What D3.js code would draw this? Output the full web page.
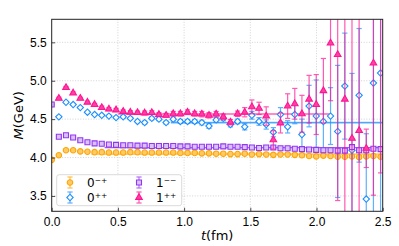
<!DOCTYPE html>
<html>
<head>
<meta charset="utf-8">
<script src="https://cdn.jsdelivr.net/npm/d3@7"></script>
<style>
	html, body { margin: 0; padding: 0; background: #fff; }
	svg { display: block; font-family: "DejaVu Sans", sans-serif; }
	.grid line { stroke: #c8c8c8; stroke-width: 0.8; stroke-dasharray: 1,1.6; }
	.axis path { display: none; }
	.axis line { stroke: #222; stroke-width: 0.8; }
	.axis text { font-size: 12px; fill: #000; }
</style>
</head>
<body>
<div id="chart"></div>
<script>
// lattice time slices: t = n * spacing
var spacing = 0.054;
var xTicks = [0.0, 0.5, 1.0, 1.5, 2.0, 2.5];
var yTicks = [3.5, 4.0, 4.5, 5.0, 5.5];

// 0-+ , starts at n = 0
var mPS = [3.97, 4.03, 4.095, 4.095, 4.08, 4.075, 4.07, 4.07, 4.065, 4.065, 4.065, 4.07, 4.07, 4.065, 4.065, 4.065,
	4.065, 4.065, 4.06, 4.06, 4.06, 4.055, 4.055, 4.05, 4.05, 4.045, 4.045, 4.05, 4.04, 4.045, 4.04, 4.035,
	4.04, 4.04, 4.035, 4.03, 4.02, 4.015, 4.025, 4.02, 4.01, 4.01, 4.015, 4.005, 4.015, 4.02, 4.01];
var ePS = [0.004, 0.004, 0.004, 0.004, 0.004, 0.004, 0.004, 0.004, 0.005, 0.005, 0.005, 0.005, 0.005, 0.005, 0.005, 0.005,
	0.005, 0.006, 0.006, 0.006, 0.006, 0.006, 0.006, 0.006, 0.007, 0.007, 0.007, 0.007, 0.007, 0.007, 0.008, 0.008,
	0.008, 0.008, 0.008, 0.009, 0.009, 0.009, 0.01, 0.01, 0.01, 0.01, 0.011, 0.011, 0.011, 0.012, 0.012];

// 0++ , starts at n = 1
var mS = [4.53, 4.72, 4.69, 4.65, 4.59, 4.56, 4.55, 4.54, 4.52, 4.53, 4.51, 4.47, 4.455, 4.51, 4.50, 4.455,
	4.50, 4.47, 4.47, 4.47, 4.455, 4.41, 4.49, 4.51, 4.43, 4.47, 4.40, 4.55, 4.47, 4.43, 4.33, 4.56,
	4.40, 4.56, 4.30, 4.67, 4.54, 4.47, 4.54, 4.34, 4.93, 4.095, 4.81, 3.46, 4.97, 5.10];
var eS = [0.01, 0.01, 0.01, 0.01, 0.01, 0.01, 0.01, 0.01, 0.015, 0.015, 0.015, 0.015, 0.02, 0.02, 0.02, 0.02,
	0.025, 0.025, 0.025, 0.025, 0.03, 0.03, 0.03, 0.03, 0.03, 0.03, 0.04, 0.05, 0.05, 0.06, 0.06, 0.09,
	0.08, 0.12, 0.2, 0.27, 0.47, 0.4, 0.37, 0.86, 0.69, 1.0, 0.87, 0.85, 2.0, 2.5];

// 1-- , starts at n = 0
var mV = [4.69, 4.27, 4.29, 4.26, 4.225, 4.20, 4.185, 4.18, 4.17, 4.165, 4.16, 4.16, 4.155, 4.155, 4.15, 4.15,
	4.15, 4.15, 4.145, 4.145, 4.14, 4.14, 4.14, 4.14, 4.145, 4.14, 4.14, 4.135, 4.13, 4.125, 4.13, 4.13,
	4.12, 4.12, 4.115, 4.11, 4.105, 4.10, 4.095, 4.095, 4.09, 4.09, 4.135, 4.095, 4.095, 4.115, 4.11];
var eV = [0.006, 0.005, 0.005, 0.005, 0.005, 0.005, 0.005, 0.005, 0.006, 0.006, 0.006, 0.006, 0.006, 0.006, 0.006, 0.006,
	0.007, 0.007, 0.007, 0.007, 0.007, 0.008, 0.008, 0.008, 0.008, 0.008, 0.009, 0.009, 0.009, 0.01, 0.01, 0.01,
	0.01, 0.011, 0.011, 0.011, 0.012, 0.012, 0.012, 0.013, 0.013, 0.014, 0.014, 0.015, 0.015, 0.016, 0.016];

// 1++ , starts at n = 1
var mA = [4.77, 4.91, 4.84, 4.77, 4.72, 4.69, 4.65, 4.63, 4.62, 4.60, 4.59, 4.585, 4.58, 4.585, 4.56, 4.55,
	4.57, 4.57, 4.59, 4.57, 4.565, 4.55, 4.565, 4.53, 4.46, 4.57, 4.59, 4.66, 4.64, 4.54, 4.23, 4.45,
	4.67, 4.70, 4.57, 4.76, 4.69, 4.87, 5.49, 5.34, 4.76, 4.25, 4.35, 4.12, 5.23, 6.0];
var eA = [0.015, 0.015, 0.015, 0.015, 0.015, 0.015, 0.02, 0.02, 0.02, 0.02, 0.02, 0.02, 0.025, 0.025, 0.025, 0.025,
	0.03, 0.03, 0.03, 0.03, 0.035, 0.035, 0.035, 0.035, 0.035, 0.035, 0.06, 0.09, 0.08, 0.12, 0.12, 0.13,
	0.16, 0.2, 0.24, 0.31, 0.39, 0.42, 0.75, 1.9, 1.9, 2.0, 2.0, 0.25, 1.72, 2.2];

// plateau fits: [value, error, tmin, tmax]
var fitPS = [4.045, 0.006, 0.3, 2.5];
var fitS = [4.455, 0.014, 0.9, 2.5];
var fitV = [4.13, 0.008, 0.4, 2.5];
var fitA = [4.567, 0.01, 0.5, 2.1];

document.addEventListener("DOMContentLoaded", function(event) {

	var width = 399;
	var height = 246;
	var left = 51.7, right = 382.7, top = 19.3, bottom = 211.3;

	var x = d3.scaleLinear().domain([0, 2.5]).range([left, right]);
	var y = d3.scaleLinear().domain([3.3, 5.8]).range([bottom, top]);

	var series = [
		{ key: "ps", label: "0\u207B\u207A", start: 0, m: mPS, e: ePS, fit: fitPS, color: "#FFA500", fill: "#FFC966", shape: "circle" },
		{ key: "s", label: "0\u207A\u207A", start: 1, m: mS, e: eS, fit: fitS, color: "#1E90FF", fill: "#fff", shape: "diamond" },
		{ key: "v", label: "1\u207B\u207B", start: 0, m: mV, e: eV, fit: fitV, color: "#9236F0", fill: "#D9C2FA", shape: "square" },
		{ key: "a", label: "1\u207A\u207A", start: 1, m: mA, e: eA, fit: fitA, color: "#FF1493", fill: "#FF3FA4", shape: "triangle" }
	];

	const svg = d3.select("#chart").append("svg")
	.attr("width", width)
	.attr("height", height);

	svg.append("defs").append("clipPath")
	.attr("id", "plotclip")
	.append("rect")
	.attr("x", left)
	.attr("y", top)
	.attr("width", right - left)
	.attr("height", bottom - top);

	//grid
	var grid = svg.append("g").attr("class", "grid");
	grid.selectAll(".gx")
	.data(xTicks.slice(1, -1))
	.enter().append("line")
	.attr("x1", d => x(d)).attr("x2", d => x(d))
	.attr("y1", top).attr("y2", bottom);
	grid.selectAll(".gy")
	.data(yTicks)
	.enter().append("line")
	.attr("x1", left).attr("x2", right)
	.attr("y1", d => y(d)).attr("y2", d => y(d));

	var plot = svg.append("g").attr("clip-path", "url(#plotclip)");

	//fit bands
	series.forEach(function(s) {
		var f = s.fit;
		plot.append("rect")
		.attr("x", x(f[2]))
		.attr("width", x(f[3]) - x(f[2]))
		.attr("y", y(f[0] + f[1]))
		.attr("height", y(f[0] - f[1]) - y(f[0] + f[1]))
		.attr("fill", s.color)
		.attr("opacity", 0.3);
		plot.append("line")
		.attr("x1", x(f[2])).attr("x2", x(f[3]))
		.attr("y1", y(f[0])).attr("y2", y(f[0]))
		.attr("stroke", s.color)
		.attr("stroke-width", 1.2)
		.attr("opacity", 0.7);
	});

	function symbolPath(shape) {
		if (shape == "circle") return d3.symbol(d3.symbolCircle, 24)();
		if (shape == "square") return d3.symbol(d3.symbolSquare, 25)();
		if (shape == "diamond") return d3.symbol(d3.symbolSquare, 20)();
		return d3.symbol(d3.symbolTriangle, 19)();
	}

	function styleMarker(sel, s) {
		sel.attr("d", symbolPath(s.shape))
		.attr("stroke", s.color)
		.attr("stroke-width", 1.1)
		.attr("fill", s.fill);
		return sel;
	}

	var cap = 2.6;

	series.forEach(function(s) {
		var pts = s.m.map((v, i) => ({ t: (i + s.start) * spacing, m: v, e: s.e[i] }));
		var g = plot.append("g").attr("class", "series-" + s.key);

		var bars = g.selectAll(".bar")
		.data(pts)
		.enter().append("g")
		.attr("stroke", s.color)
		.attr("stroke-width", 1.2)
		.attr("opacity", 0.7);
		bars.append("line")
		.attr("x1", d => x(d.t)).attr("x2", d => x(d.t))
		.attr("y1", d => y(d.m - d.e)).attr("y2", d => y(d.m + d.e));
		bars.append("line")
		.attr("x1", d => x(d.t) - cap).attr("x2", d => x(d.t) + cap)
		.attr("y1", d => y(d.m - d.e)).attr("y2", d => y(d.m - d.e));
		bars.append("line")
		.attr("x1", d => x(d.t) - cap).attr("x2", d => x(d.t) + cap)
		.attr("y1", d => y(d.m + d.e)).attr("y2", d => y(d.m + d.e));

		g.selectAll(".mk")
		.data(pts)
		.enter().append("path")
		.call(styleMarker, s)
		.attr("transform", d => "translate(" + x(d.t) + "," + y(d.m) + ")" + (s.shape == "diamond" ? " rotate(45)" : ""));
	});

	//axes
	svg.append("g")
	.attr("class", "axis")
	.attr("transform", "translate(0," + bottom + ")")
	.call(d3.axisBottom(x).tickValues(xTicks).tickFormat(d3.format(".1f")).tickSize(-3.5).tickPadding(6));

	svg.append("g")
	.attr("class", "axis")
	.attr("transform", "translate(" + left + ",0)")
	.call(d3.axisLeft(y).tickValues(yTicks).tickFormat(d3.format(".1f")).tickSize(-3.5).tickPadding(5));

	svg.append("rect")
	.attr("x", left).attr("y", top)
	.attr("width", right - left).attr("height", bottom - top)
	.attr("fill", "none")
	.attr("stroke", "#222")
	.attr("stroke-width", 1);

	//labels
	var xl = svg.append("text")
	.attr("x", (left + right) / 2)
	.attr("y", 240)
	.attr("text-anchor", "middle")
	.attr("font-size", 13);
	xl.append("tspan").attr("font-style", "italic").text("t");
	xl.append("tspan").text("(fm)");

	var yl = svg.append("text")
	.attr("transform", "translate(23," + ((top + bottom) / 2) + ") rotate(-90)")
	.attr("text-anchor", "middle")
	.attr("font-size", 13);
	yl.append("tspan").attr("font-style", "italic").text("M");
	yl.append("tspan").text("(GeV)");

	//legend
	var legend = svg.append("g");
	legend.append("rect")
	.attr("x", 56.7).attr("y", 174.7)
	.attr("width", 125).attr("height", 31)
	.attr("rx", 2.5)
	.attr("fill", "#fff")
	.attr("fill-opacity", 0.85)
	.attr("stroke", "#d0d0d0")
	.attr("stroke-width", 0.8);

	var slots = [[70, 182.5], [70, 197.5], [139, 182.5], [139, 197.5]];
	series.forEach(function(s, i) {
		var p = slots[i];
		var item = legend.append("g").attr("transform", "translate(" + p[0] + "," + p[1] + ")");
		var eb = item.append("g").attr("stroke", s.color).attr("stroke-width", 1.2).attr("opacity", 0.7);
		eb.append("line").attr("x1", 0).attr("x2", 0).attr("y1", -5.5).attr("y2", 5.5);
		eb.append("line").attr("x1", -cap).attr("x2", cap).attr("y1", -5.5).attr("y2", -5.5);
		eb.append("line").attr("x1", -cap).attr("x2", cap).attr("y1", 5.5).attr("y2", 5.5);
		item.append("path")
		.call(styleMarker, s)
		.attr("transform", s.shape == "diamond" ? "rotate(45)" : null);
		item.append("text")
		.attr("x", 17)
		.attr("y", 4.5)
		.attr("font-size", 12)
		.text(s.label);
	});

});
</script>
</body>
</html>
